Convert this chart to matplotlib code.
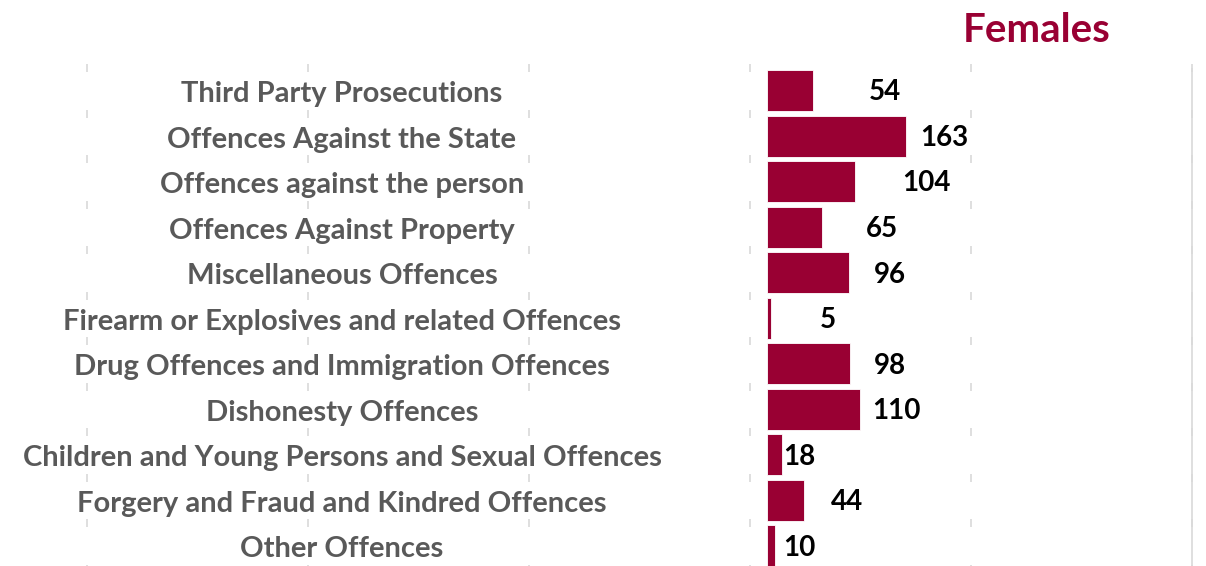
import matplotlib
matplotlib.use("Agg")
import matplotlib.pyplot as plt
import matplotlib.transforms as mtransforms

categories = [
    "Third Party Prosecutions",
    "Offences Against the State",
    "Offences against the person",
    "Offences Against Property",
    "Miscellaneous Offences",
    "Firearm or Explosives and related Offences",
    "Drug Offences and Immigration Offences",
    "Dishonesty Offences",
    "Children and Young Persons and Sexual Offences",
    "Forgery and Fraud and Kindred Offences",
    "Other Offences",
]
females = [54, 163, 104, 65, 96, 5, 98, 110, 18, 44, 10]
# horizontal centre of each value label (data units), as placed in the original
label_x = [139, 208, 188, 135, 145, 72, 145, 152, 38, 94, 38]
title = "Females"

BAR = "#990033"
GRAY = "#595959"
GRID = "#d9d9d9"
FONT = "Lato"

W, H = 1206, 566
fig = plt.figure(figsize=(W / 100, H / 100), dpi=100)
ax = fig.add_axes([0, 0, 1, (H - 68) / H])

px_per_unit = 0.85
x0_px = 767
ax.set_xlim((0 - x0_px) / px_per_unit, (W - x0_px) / px_per_unit)
ax.set_ylim(10.44, -0.5)

ys = list(range(len(categories)))
ax.barh(ys, females, height=0.9, color=BAR, edgecolor="white", linewidth=0.6, zorder=3)

# faint dotted grid (short dashes at each row boundary)
grid_x = [-800, -540, -280, -20, 240, 500]
for gx in grid_x:
    ax.scatter([gx] * (len(categories) + 1), [i - 0.5 for i in range(len(categories) + 1)],
               marker="|", s=30, color=GRID, linewidths=1.2, zorder=1, clip_on=False)
ax.axvline(500, color=GRID, linewidth=1.2, zorder=1)

shift_cat = mtransforms.offset_copy(ax.transData, fig=fig, x=0, y=-2.5, units="points")
shift_val = mtransforms.offset_copy(ax.transData, fig=fig, x=0, y=-1.2, units="points")
label_center = (342 - x0_px) / px_per_unit
for y, cat in zip(ys, categories):
    ax.text(label_center, y, cat, ha="center", va="center", fontsize=21,
            fontweight="bold", color=GRAY, family=FONT, zorder=4, transform=shift_cat)
for y, v, lx in zip(ys, females, label_x):
    ax.text(lx, y, str(v), ha="center", va="center", fontsize=20,
            fontweight="bold", color="black", family=FONT, zorder=4, transform=shift_val)

ax.axis("off")

fig.text(1037 / W, 1 - 30 / H, title, ha="center", va="center", fontsize=29,
         fontweight="bold", color=BAR, family=FONT)

fig.savefig("out.png", dpi=100)
